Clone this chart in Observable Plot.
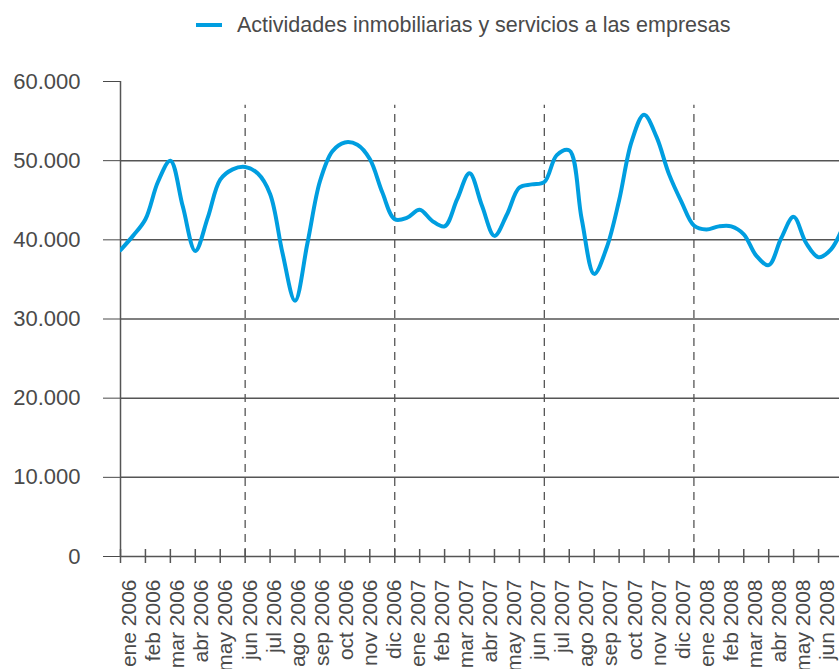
<!DOCTYPE html>
<html>
<head>
<meta charset="utf-8">
<script src="https://cdn.jsdelivr.net/npm/d3@7"></script>
<script src="https://cdn.jsdelivr.net/npm/@observablehq/plot@0.6"></script>
<style>
  html, body { margin: 0; padding: 0; background: #fff; overflow: hidden; }
  body { width: 839px; font-family: "Liberation Sans", Arial, sans-serif; color: #4a4a4a; }
  .legend { height: 50px; display: flex; align-items: center; padding-left: 196px; font-size: 21.5px; }
  .legend .swatch { display: inline-block; width: 26px; height: 4px; background: #009ee0; margin-right: 15px; }
</style>
</head>
<body>
<div class="legend"><span class="swatch"></span><span>Actividades inmobiliarias y servicios a las empresas</span></div>
<div id="chart"></div>
<script>
// Month labels of the horizontal axis
const months = [
  "ene 2006", "feb 2006", "mar 2006", "abr 2006", "may 2006", "jun 2006",
  "jul 2006", "ago 2006", "sep 2006", "oct 2006", "nov 2006", "dic 2006",
  "ene 2007", "feb 2007", "mar 2007", "abr 2007", "may 2007", "jun 2007",
  "jul 2007", "ago 2007", "sep 2007", "oct 2007", "nov 2007", "dic 2007",
  "ene 2008", "feb 2008", "mar 2008", "abr 2008", "may 2008", "jun 2008"
];

// Semester boundaries drawn as dashed separators
const separators = ["jun 2006", "dic 2006", "jun 2007", "dic 2007"];

// Semi-monthly readings (1st and 15th of each month), from ene 2006 to jun 2008
const values = [
  38700, 40500, 42600, 47300, 50000, 44200, 38600, 42800, 47600, 48900,
  49200, 48400, 45800, 38300, 32300, 39600, 47400, 51200, 52300, 52000,
  50200, 46000, 42600, 42800, 43800, 42400, 41700, 45100, 48400, 44300,
  40500, 43200, 46600, 47000, 47300, 50700, 51300, 42600, 35700, 39000,
  45000, 52400, 55800, 53000, 48300, 44800, 41800, 41300, 41700, 41700,
  40700, 38000, 36800, 40200, 42900, 39600, 37800, 38800, 41800
];

// Vertical axis ticks
const yTicks = [0, 10000, 20000, 30000, 40000, 50000, 60000];
const gridValues = [0, 10000, 20000, 30000, 40000, 50000];
const separatorTop = 57000;

const fmt = d3.formatLocale({decimal: ",", thousands: ".", grouping: [3], currency: ["", " €"]}).format(",d");

const points = values.map((v, i) => ({t: i / 2, v}));
const monthIdx = months.map((_, i) => i);
const sepIdx = separators.map((m) => months.indexOf(m));

// Month labels are spread evenly, slightly inset from the tick grid
const labelStart = 0.36, labelEnd = 28.35;
const labelX = (i) => labelStart + i * (labelEnd - labelStart) / (months.length - 1);

const axisColor = "#555";

const chart = Plot.plot({
  width: 839,
  height: 619,
  marginTop: 31,
  marginBottom: 113,
  marginLeft: 120,
  marginRight: 0,
  style: {fontFamily: "Liberation Sans, Arial, sans-serif", fontSize: "22px", color: "#4a4a4a", overflow: "hidden", background: "#fff"},
  x: {domain: [0, months.length - 1], range: [120, 843], axis: null},
  y: {domain: [yTicks[0], yTicks[yTicks.length - 1]], ticks: yTicks, tickSize: 17, tickPadding: 23, tickFormat: fmt, label: null},
  marks: [
    Plot.ruleY(gridValues, {stroke: axisColor, strokeWidth: 1.5}),
    Plot.ruleX([0], {x: (d) => d, y1: () => yTicks[0], y2: () => yTicks[yTicks.length - 1], stroke: axisColor, strokeWidth: 1.5}),
    Plot.ruleX(monthIdx, {x: (d) => d, y1: () => 0, y2: () => 0, insetTop: -7, insetBottom: -7, stroke: axisColor, strokeWidth: 1.5}),
    Plot.ruleX(sepIdx, {x: (d) => d, y1: () => 0, y2: () => separatorTop, stroke: axisColor, strokeWidth: 1.3, strokeDasharray: "8,6"}),
    Plot.line(points, {x: "t", y: "v", stroke: "#009ee0", strokeWidth: 4, curve: "catmull-rom", clip: true}),
    Plot.text(months, {x: (d, i) => labelX(i), frameAnchor: "bottom", text: (d) => d, rotate: -90, textAnchor: "end", lineAnchor: "middle", dy: 23, fontSize: 21, fill: "#4a4a4a"})
  ]
});

document.getElementById("chart").appendChild(chart);
</script>
</body>
</html>
